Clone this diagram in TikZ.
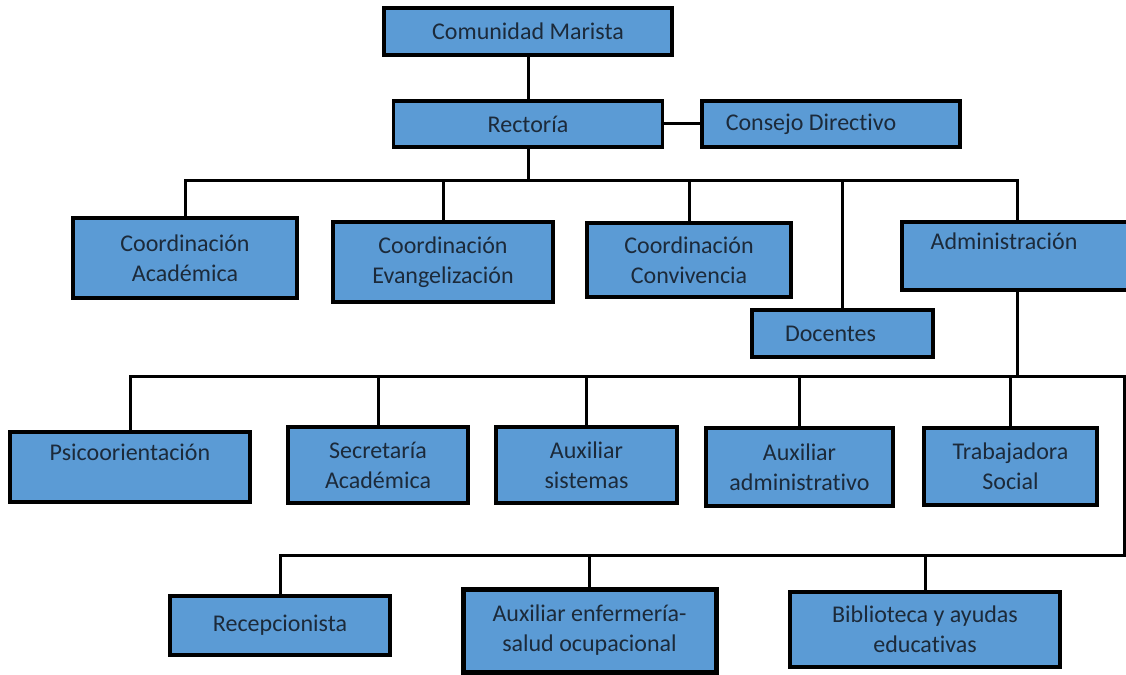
\documentclass[tikz,border=0pt]{standalone}
\usepackage{fontspec}
\setmainfont{Carlito}[Ligatures=NoCommon]

\definecolor{boxblue}{HTML}{5B9BD5}
\definecolor{inkblue}{HTML}{1C2A3A}

\tikzset{
  unit/.style={draw=black, line width=3.5pt, fill=boxblue, text=inkblue,
    align=center, inner sep=0pt, font=\fontsize{24}{30}\selectfont},
  link/.style={line width=3pt}
}

\begin{document}
\begin{tikzpicture}[x=1pt, y=-1pt]

  \useasboundingbox (0,0) rectangle (1126,674);

  % --- Level 1: top ---
  \node[unit, minimum width=288pt, minimum height=47pt] (comunidad) at (528,31.5) {Comunidad Marista};
  \node[unit, minimum width=269pt, minimum height=46pt] (rectoria) at (528,124) {Rectoría};
  \node[unit, minimum width=258pt, minimum height=46pt] (consejo) at (831,124) {\hspace*{-40pt}Consejo Directivo};

  \draw[link] (comunidad) -- (rectoria);
  \draw[link] (rectoria) -- (consejo);

  % --- Level 2: coordinations ---
  \coordinate (bus1) at (528,180);

  \node[unit, minimum width=224pt, minimum height=80pt] (academica) at (185,258) {Coordinación\\Académica};
  \node[unit, minimum width=220pt, minimum height=80pt] (evangel) at (443,262) {Coordinación\\Evangelización};
  \node[unit, minimum width=204pt, minimum height=74pt] (conviv) at (689,260) {Coordinación\\Convivencia};
  \node[unit, minimum width=181pt, minimum height=47pt] (docentes) at (842.5,333.5) {\hspace*{-24pt}Docentes};
  \node[unit, minimum width=230pt, minimum height=68pt] (admin) at (1017,256) {\hspace*{-26pt}Administración\\\mbox{}};

  \draw[link] (rectoria) -- (bus1);
  \draw[link] (bus1) -| (academica);
  \draw[link] (bus1) -| (evangel);
  \draw[link] (bus1) -| (conviv);
  \draw[link] (bus1) -| (docentes);
  \draw[link] (bus1) -| (admin);

  % --- Level 3: staff ---
  \coordinate (bus2) at (1017,376);
  \coordinate (turn) at (1124,555);

  \node[unit, minimum width=240pt, minimum height=70pt] (psico) at (130,467) {Psicoorientación\\\mbox{}};
  \node[unit, minimum width=180pt, minimum height=76pt] (secretaria) at (378,465) {Secretaría\\Académica};
  \node[unit, minimum width=181pt, minimum height=76pt] (sistemas) at (586.5,465) {Auxiliar\\sistemas};
  \node[unit, minimum width=187pt, minimum height=78pt] (auxadmin) at (799.5,467) {Auxiliar\\administrativo};
  \node[unit, minimum width=173pt, minimum height=77pt] (trabajadora) at (1010.5,466.5) {Trabajadora\\Social};

  \draw[link] (admin) -- (bus2);
  \draw[link] (bus2) -| (psico);
  \draw[link] (bus2) -| (secretaria);
  \draw[link] (bus2) -| (sistemas);
  \draw[link] (bus2) -| (auxadmin);
  \draw[link] (bus2) -| (trabajadora);

  % --- Level 4: support ---
  \node[unit, minimum width=220pt, minimum height=59pt] (recepcion) at (280,625.5) {Recepcionista};
  \node[unit, minimum width=253pt, minimum height=83pt, line width=5pt] (enfermeria) at (589.5,630.5) {Auxiliar enfermería-\\salud ocupacional};
  \node[unit, minimum width=270pt, minimum height=75pt] (biblioteca) at (925,629.5) {Biblioteca y ayudas\\educativas};

  \draw[link] (bus2) -| (turn) -| (recepcion);
  \draw[link] (turn) -| (enfermeria);
  \draw[link] (turn) -| (biblioteca);

\end{tikzpicture}
\end{document}
